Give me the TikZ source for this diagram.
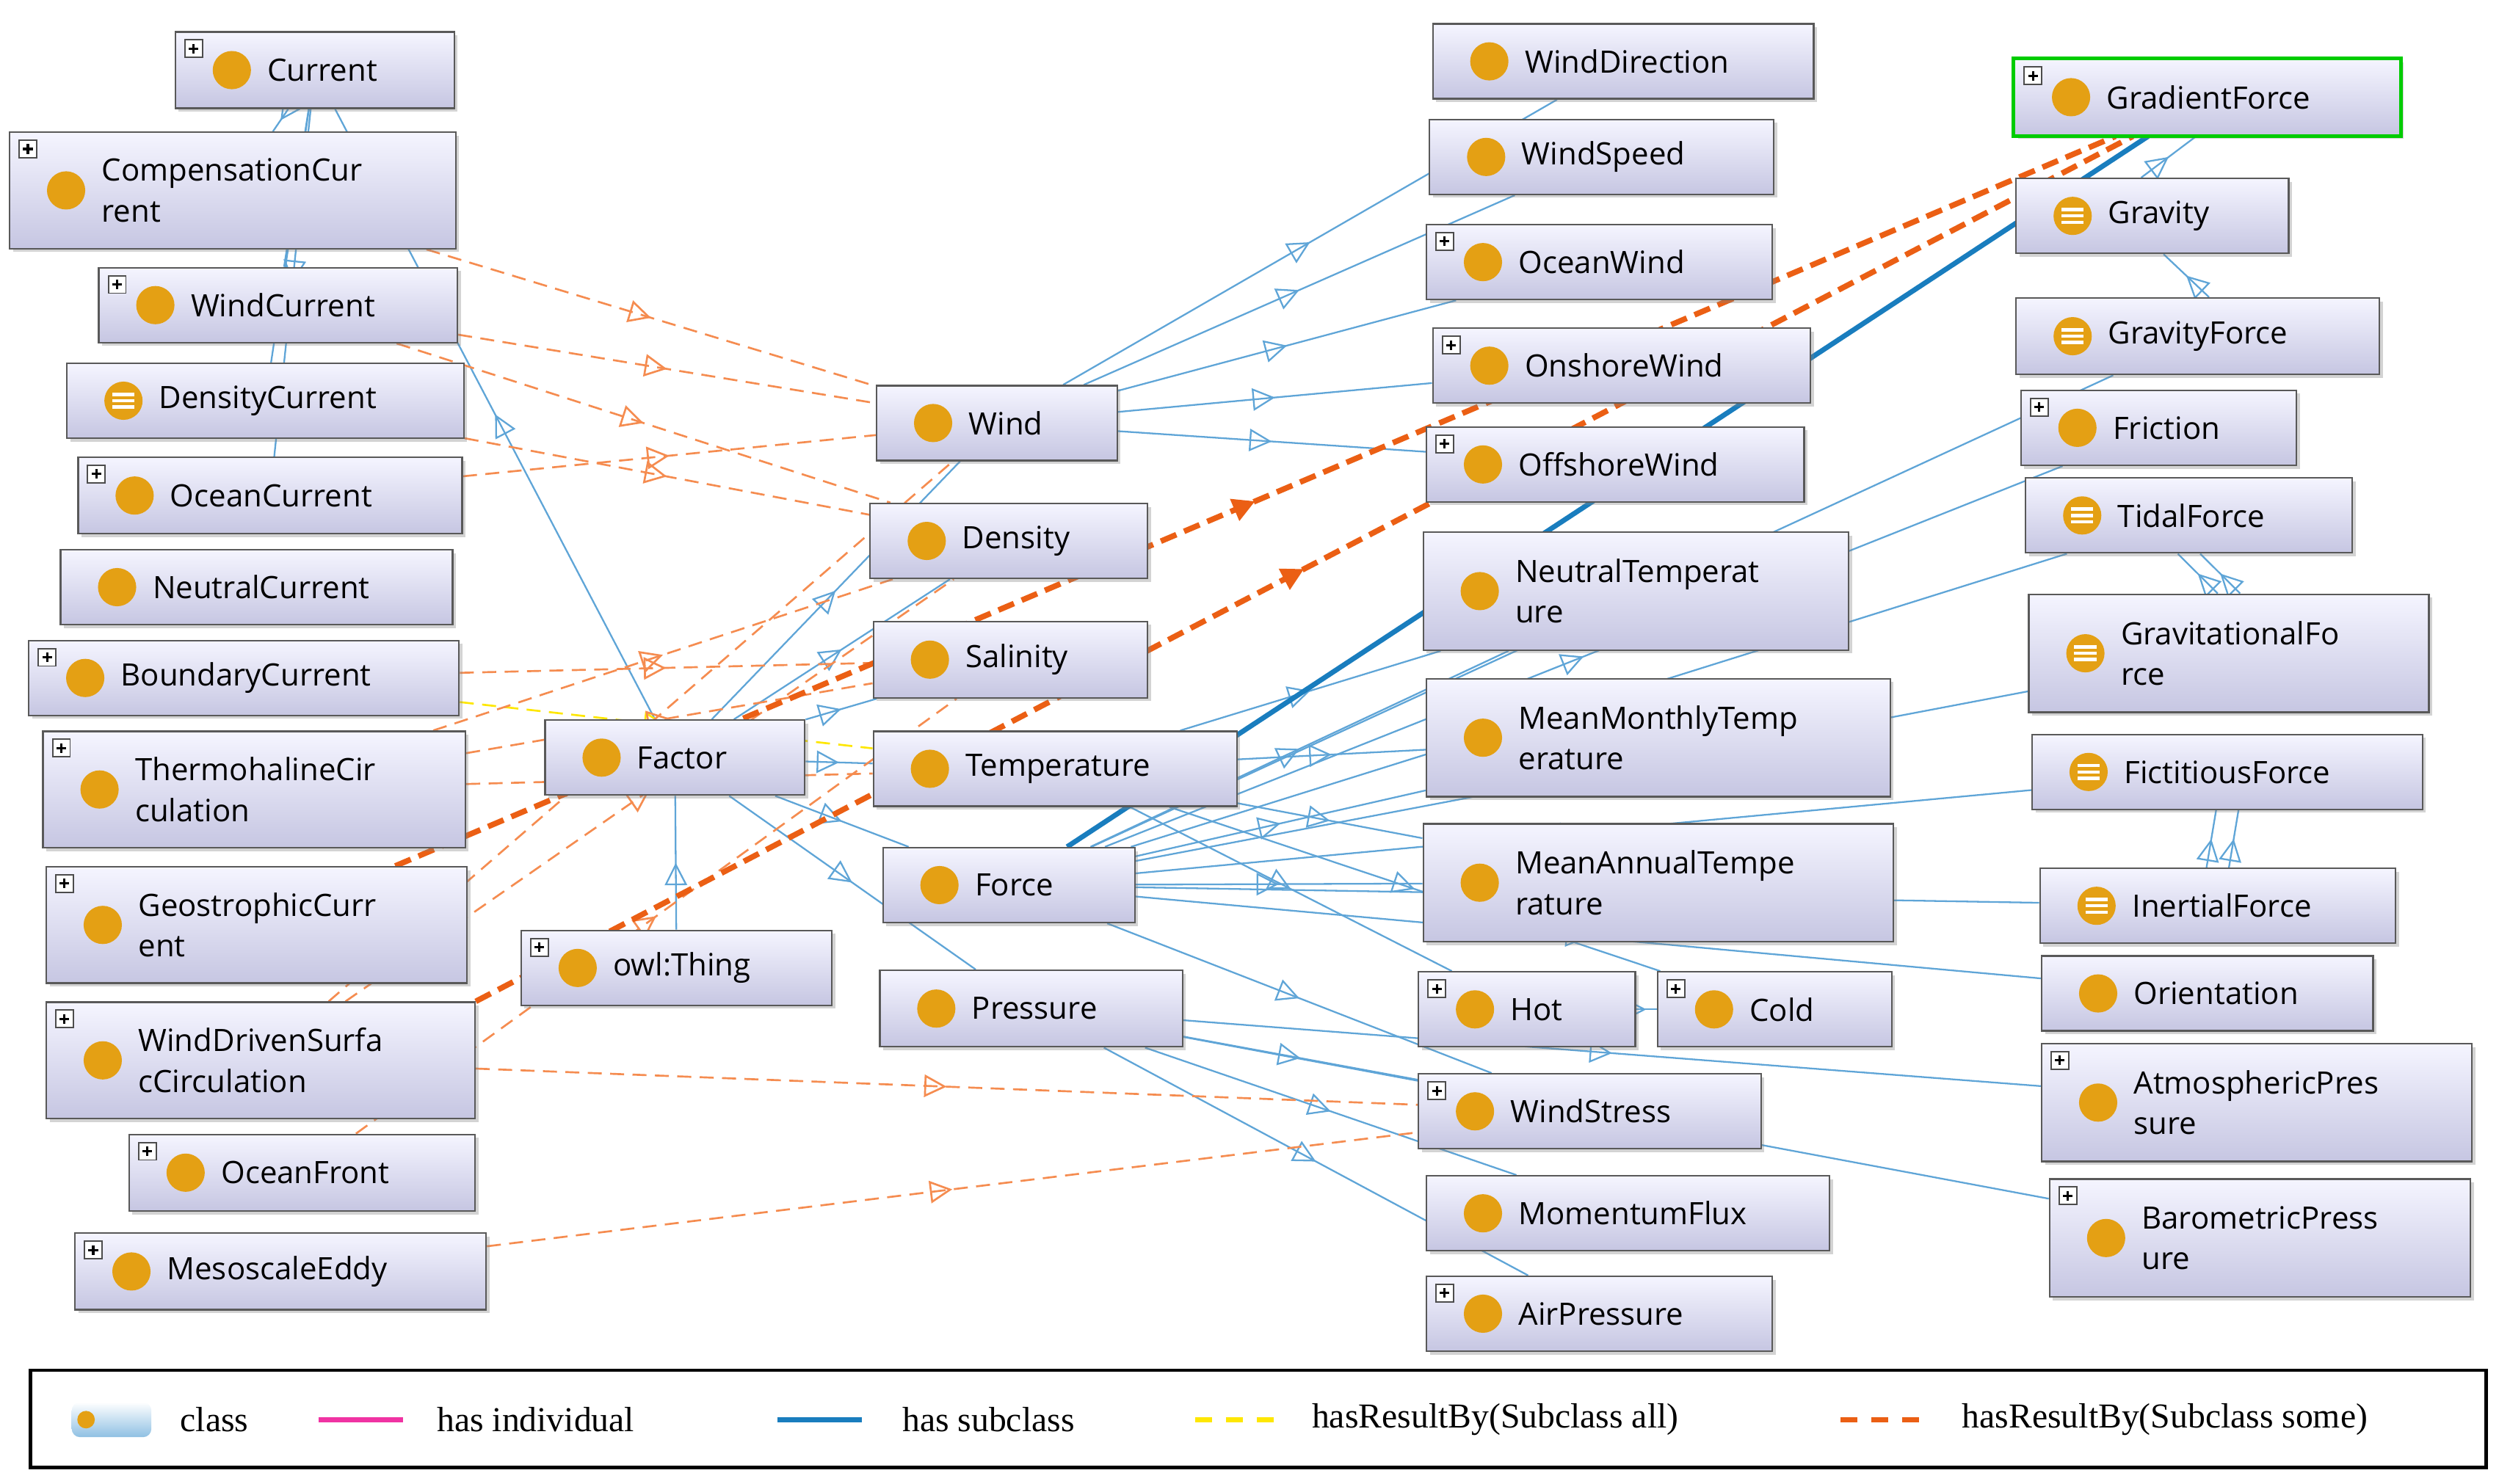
\documentclass[tikz,border=0pt]{standalone}
\usepackage{fontspec}
\setmainfont{Liberation Serif}
\newfontfamily\nodefont{Open Sans}
\usetikzlibrary{arrows.meta,decorations.markings,fit,calc,shadows,backgrounds}
\definecolor{sblue}{RGB}{95,165,215}
\definecolor{tblue}{RGB}{25,125,190}
\definecolor{lor}{RGB}{245,140,80}
\definecolor{tor}{RGB}{235,95,20}
\definecolor{ico}{RGB}{228,160,20}
\definecolor{boxbot}{RGB}{198,198,226}
\tikzset{
 cbox/.style={draw=black!65, line width=0.6pt, top color=white!96!blue, bottom color=boxbot, inner sep=0pt, drop shadow={shadow xshift=1.2pt,shadow yshift=-1.2pt,opacity=0.35}},
 txt/.style={font=\nodefont\fontsize{11}{14.5}\selectfont, anchor=west, align=left, inner sep=0pt},
 mk/.style={postaction={decorate}, decoration={markings, mark=at position #1 with {\arrow[solid,fill=white]{Triangle[open,length=8pt,width=8pt]}}}},
 sub/.style={draw=sblue, line width=0.6pt, mk=0.5},
 sub/.default=0.5,
 thk/.style={draw=tblue, line width=1.8pt},
 res/.style={draw=lor, line width=0.7pt, dash pattern=on 5pt off 3pt, mk=0.5},
 tres/.style={draw=tor, line width=2pt, dash pattern=on 6pt off 3pt, mk=0.5},
 yres/.style={draw=yellow!90!orange, line width=0.7pt, dash pattern=on 5pt off 3pt, mk=0.5},
}
\newcommand\cls[8]{%
 \coordinate (#1nw) at (#2,#3); \coordinate (#1se) at (#4,#5);
 \node[cbox, fit=(#1nw)(#1se)] (#1) {};
 \node[txt] at ($(#1.west)+(58,0)$) {#6};
 \fill[ico] ($(#1.west)+(36,0)$) circle (0.24cm);
 \ifx e#7 \foreach \dy in {-4,0,4}{\draw[white,line width=1.2pt] ($(#1.west)+(29,\dy)$) -- ++(14,0);}\fi
 \ifnum#8=1
   \draw[black!70,fill=white,line width=0.5pt] ($(#1nw)+(6,5)$) rectangle ++(11,11);
   \draw[black,line width=0.8pt] ($(#1nw)+(8.5,10.5)$) -- ++(6,0) ($(#1nw)+(11.5,7.5)$) -- ++(0,6);
 \fi}
\begin{document}
\begin{tikzpicture}[x=0.02cm,y=-0.02cm]
\useasboundingbox (0,0) rectangle (1568,931);
\cls{cur}{110}{20}{285}{68}{Current}{c}{1}
\cls{comp}{6}{83}{286}{156}{CompensationCur\\rent}{c}{1}
\cls{wcur}{62}{168}{287}{215}{WindCurrent}{c}{1}
\cls{dcur}{42}{228}{291}{275}{DensityCurrent}{e}{0}
\cls{ocur}{49}{287}{290}{335}{OceanCurrent}{c}{1}
\cls{ncur}{38}{345}{284}{392}{NeutralCurrent}{c}{0}
\cls{bcur}{18}{402}{288}{449}{BoundaryCurrent}{c}{1}
\cls{thc}{27}{459}{292}{532}{ThermohalineCir\\culation}{c}{1}
\cls{geo}{29}{544}{293}{617}{GeostrophicCurr\\ent}{c}{1}
\cls{wds}{29}{629}{298}{702}{WindDrivenSurfa\\cCirculation}{c}{1}
\cls{ofr}{81}{712}{298}{760}{OceanFront}{c}{1}
\cls{mes}{47}{774}{305}{822}{MesoscaleEddy}{c}{1}
\cls{fac}{342}{452}{505}{499}{Factor}{c}{0}
\cls{thing}{327}{584}{522}{631}{owl:Thing}{c}{1}
\cls{wind}{550}{242}{701}{289}{Wind}{c}{0}
\cls{dens}{546}{316}{720}{363}{Density}{c}{0}
\cls{sal}{548}{390}{720}{438}{Salinity}{c}{0}
\cls{temp}{548}{459}{776}{506}{Temperature}{c}{0}
\cls{force}{554}{532}{712}{579}{Force}{c}{0}
\cls{pres}{552}{609}{742}{657}{Pressure}{c}{0}
\cls{wdir}{899}{15}{1138}{62}{WindDirection}{c}{0}
\cls{wsp}{897}{75}{1113}{122}{WindSpeed}{c}{0}
\cls{ow}{895}{141}{1112}{188}{OceanWind}{c}{1}
\cls{onw}{899}{206}{1136}{253}{OnshoreWind}{c}{1}
\cls{offw}{895}{268}{1132}{315}{OffshoreWind}{c}{1}
\cls{nt}{893}{334}{1160}{408}{NeutralTemperat\\ure}{c}{0}
\cls{mmt}{895}{426}{1186}{500}{MeanMonthlyTemp\\erature}{c}{0}
\cls{mat}{893}{517}{1188}{591}{MeanAnnualTempe\\rature}{c}{0}
\cls{hot}{890}{610}{1026}{657}{Hot}{c}{1}
\cls{cold}{1040}{610}{1187}{657}{Cold}{c}{1}
\cls{wst}{890}{674}{1105}{721}{WindStress}{c}{1}
\cls{mf}{895}{738}{1148}{785}{MomentumFlux}{c}{0}
\cls{ap}{895}{801}{1112}{848}{AirPressure}{c}{1}
\cls{gf}{1264}{37}{1506}{85}{GradientForce}{c}{1}
\draw[green!80!black,line width=1.3pt] (gf.north west) rectangle (gf.south east);
\cls{grav}{1265}{112}{1436}{159}{Gravity}{e}{0}
\cls{gravf}{1265}{187}{1493}{235}{GravityForce}{e}{0}
\cls{fric}{1268}{245}{1441}{292}{Friction}{c}{1}
\cls{tid}{1271}{300}{1476}{347}{TidalForce}{e}{0}
\cls{gvf}{1273}{373}{1524}{447}{GravitationalFo\\rce}{e}{0}
\cls{fict}{1275}{461}{1520}{508}{FictitiousForce}{e}{0}
\cls{inert}{1280}{545}{1503}{592}{InertialForce}{e}{0}
\cls{ori}{1281}{600}{1489}{647}{Orientation}{c}{0}
\cls{atp}{1281}{655}{1551}{729}{AtmosphericPres\\sure}{c}{1}
\cls{bap}{1286}{740}{1550}{814}{BarometricPress\\ure}{c}{1}
\begin{scope}[on background layer]
% subclass edges
\draw[sub] (thing) -- (fac);
\draw[sub] (fac) -- (cur);
\foreach \t in {comp,wcur,dcur,ocur}{\draw[sub=0.6] (cur) -- (\t);}
\foreach \t in {wind,dens,sal,temp,force,pres}{\draw[sub] (fac) -- (\t);}
\foreach \t in {wdir,wsp,ow,onw,offw}{\draw[sub] (wind) -- (\t);}
\foreach \t in {nt,mmt,mat,hot,cold}{\draw[sub] (temp) -- (\t);}
\foreach \t in {fric,tid,gvf,fict,inert,ori,gravf,wst,nt,mmt,mat}{\draw[sub=0.3] (force) -- (\t);}
\foreach \t in {wst,mf,ap,atp,bap}{\draw[sub=0.4] (pres) -- (\t);}
\draw[thk] (force) -- (gf);
\draw[sub] ([xshift=-4pt]grav.north) -- ([xshift=-4pt]gf.south);
\draw[sub] ([xshift=4pt]gravf.north) -- ([xshift=4pt]grav.south);
\draw[sub] ([xshift=-4pt]gvf.north) -- ([xshift=-4pt]tid.south);
\draw[sub] ([xshift=4pt]gvf.north) -- ([xshift=4pt]tid.south);
\draw[sub] ([xshift=-4pt]inert.north) -- ([xshift=-4pt]fict.south);
\draw[sub] ([xshift=4pt]inert.north) -- ([xshift=4pt]fict.south);
\draw[sub] (hot) -- (cold);
% hasResultBy
\draw[res] (comp) -- (wind);
\draw[res] (wcur) -- (wind);
\draw[res] (wcur) -- (dens);
\draw[res] (dcur) -- (dens);
\draw[res] (ocur) -- (wind);
\draw[res] (bcur) -- (sal);
\draw[yres] (bcur) -- (temp);
\draw[res] (thc) -- (sal);
\draw[res] (thc) -- (temp);
\draw[res] (thc) -- (dens);
\draw[res] (wds) -- (wind);
\draw[res] (wds) -- (dens);
\draw[res] (wds) -- (wst);
\draw[res] (mes) -- (wst);
\draw[res] (ofr) -- (sal);
\draw[tres] (geo) -- (gf);
\draw[tres] (wds.north east) -- (gf);
\end{scope}
% legend
\draw[line width=1.2pt] (19,860) rectangle (1560,921);
\shade[top color=white, bottom color=sblue!70, rounded corners=3pt] (45,880) rectangle (95,902);
\fill[ico] (54,891) circle (0.11cm);
\node[anchor=west,font=\fontsize{12.5}{14}\selectfont] (l1) at (107,891) {class};
\draw[magenta!80,line width=2pt] (200,891) -- (253,891);
\node[anchor=west,font=\fontsize{12.5}{14}\selectfont] (l2) at (268,891) {has individual};
\draw[tblue,line width=2pt] (488,891) -- (541,891);
\node[anchor=west,font=\fontsize{12.5}{14}\selectfont] (l3) at (560,891) {has subclass};
\draw[yellow!90!orange,line width=2pt,dash pattern=on 6pt off 5pt] (750,891) -- (803,891);
\node[anchor=west,font=\fontsize{12.5}{14}\selectfont] (l4) at (817,891) {hasResultBy(Subclass all)};
\draw[tor,line width=2pt,dash pattern=on 6pt off 5pt] (1155,891) -- (1208,891);
\node[anchor=west,font=\fontsize{12.5}{14}\selectfont] (l5) at (1225,891) {hasResultBy(Subclass some)};
\end{tikzpicture}
\end{document}
